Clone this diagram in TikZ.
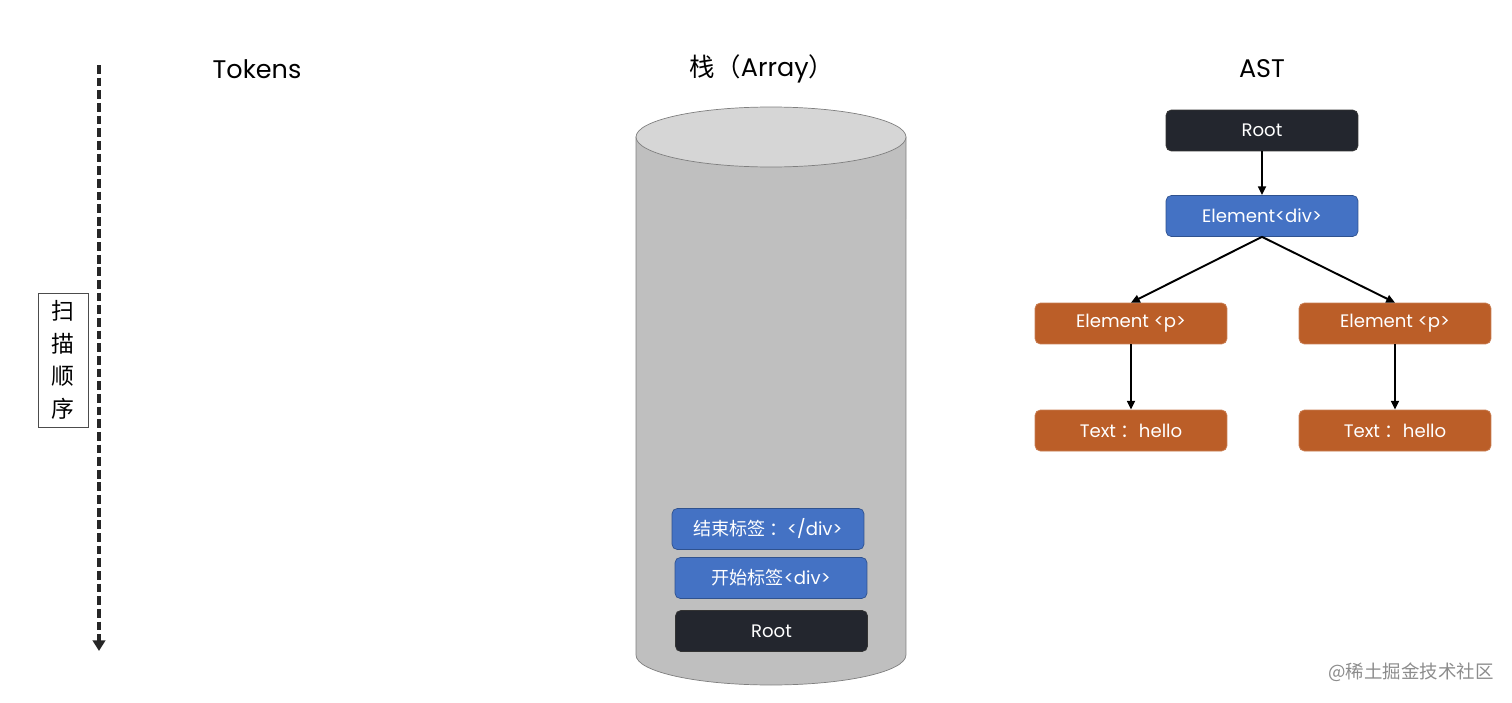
\documentclass[tikz,border=0pt]{standalone}
\usepackage{fontspec}
\setmainfont{Poppins}
\newfontfamily\cjk{Noto Sans CJK SC}
\usepackage{tikz}
\usetikzlibrary{arrows.meta}

\definecolor{rootdark}{HTML}{23262E}
\definecolor{divblue}{HTML}{4472C4}
\definecolor{divline}{HTML}{2F528F}
\definecolor{porange}{HTML}{BB5E28}
\definecolor{cylbody}{HTML}{BFBFBF}
\definecolor{cyltop}{HTML}{D6D6D6}
\definecolor{cylline}{HTML}{7F7F7F}

\begin{document}
\begin{tikzpicture}[x=0.02cm, y=0.02cm,
    box/.style={rounded corners=3pt, minimum width=3.84cm, minimum height=0.82cm, inner sep=0pt, text=white, font=\fontsize{10.3}{12}\selectfont},
    darkbox/.style={box, fill=rootdark, draw=black!80},
    bluebox/.style={box, fill=divblue, draw=divline},
    orangebox/.style={box, fill=porange, draw=porange!80!white},
    title/.style={font=\fontsize{14.5}{17}\selectfont},
    link/.style={-{Triangle[length=5pt,width=4.5pt]}, line width=1.1pt}]
    \useasboundingbox (0,0) rectangle (1512,-703);

    % Ordre de lecture
    \coordinate (scanTop) at (99,-65);
    \coordinate (scanEnd) at (99,-651);
    \draw[line width=2.8pt, black!85, dash pattern=on 5pt off 2.2pt, -{Triangle[length=6pt,width=7pt]}] (scanTop) -- (scanEnd);
    \node[draw=black!70, minimum width=1cm, minimum height=2.68cm, inner sep=0pt, align=center, font=\cjk\fontsize{13}{18.5}\selectfont] (scanLabel) at (63,-360) {扫\\描\\顺\\序};

    % Titres
    \node[title] (tokensTitle) at (257,-69) {Tokens};
    \node[title] (stackTitle) at (762,-69) {{\cjk 栈（}Array{\cjk ）}};
    \node[title] (astTitle) at (1262,-69) {AST};

    % Pile
    \draw[fill=cylbody, draw=cylline] (636,-137) -- (636,-655) arc[start angle=180, end angle=360, x radius=2.7cm, y radius=0.6cm] -- (906,-137) -- cycle;
    \draw[fill=cyltop, draw=cylline] (771,-137) ellipse [x radius=2.7cm, y radius=0.6cm];

    \node[bluebox] (stackClose) at (768,-529) {{\cjk 结束标签\,：}</div>};
    \node[bluebox] (stackOpen) at (771,-578) {{\cjk 开始标签}<div>};
    \node[darkbox] (stackRoot) at (771.5,-631) {Root};

    % Arbre
    \node[darkbox] (astRoot) at (1262,-130.5) {Root};
    \node[bluebox] (astDiv) at (1262,-216) {Element<div>};
    \node[orangebox] (astPLeft) at (1131,-323.5) {Element <p>};
    \node[orangebox] (astPRight) at (1395,-323.5) {Element <p>};
    \node[orangebox] (astTextLeft) at (1131,-430.5) {Text {\cjk ：}hello};
    \node[orangebox] (astTextRight) at (1395,-430.5) {Text {\cjk ：}hello};

    \draw[link] (astRoot) -- (astDiv);
    \draw[link] (astDiv.south) -- (astPLeft.north);
    \draw[link] (astDiv.south) -- (astPRight.north);
    \draw[link] (astPLeft) -- (astTextLeft);
    \draw[link] (astPRight) -- (astTextRight);

    \node[text=black!45, font=\cjk\fontsize{10.5}{12}\selectfont] (watermark) at (1411,-672) {@稀土掘金技术社区};
\end{tikzpicture}
\end{document}
